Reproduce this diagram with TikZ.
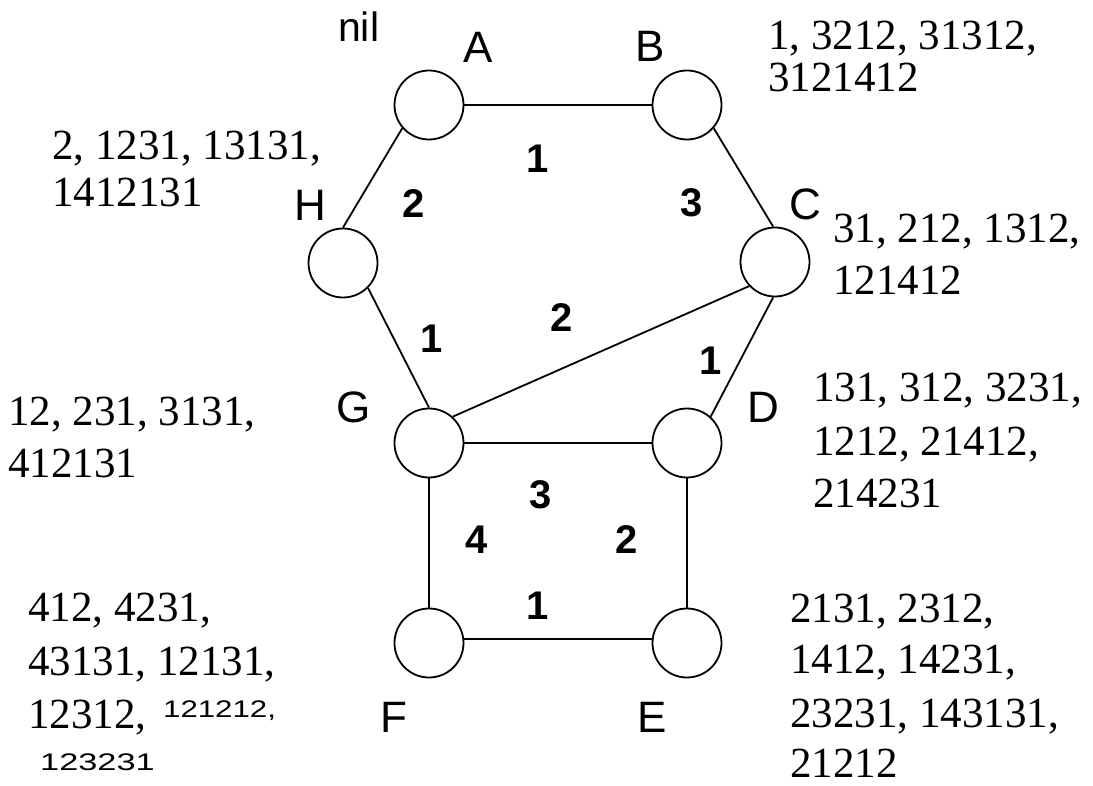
\documentclass[tikz,border=0pt]{standalone}
\usepackage{graphicx}
\usepackage{fontspec}
\setmainfont{Liberation Serif}
\newfontfamily\lsans{Liberation Sans}
\begin{document}
\begin{tikzpicture}[x=1pt,y=-1pt]
\tikzset{
 vtx/.style={draw, circle, line width=1.8pt, minimum size=69pt, inner sep=0pt},
 edge/.style={line width=1.8pt},
 num/.style={font=\fontsize{43}{52}\selectfont, anchor=base west, inner sep=0pt},
 lbl/.style={font=\lsans\fontsize{44}{50}\selectfont, anchor=base, inner sep=0pt},
 wt/.style={font=\lsans\bfseries\fontsize{40}{48}\selectfont, anchor=base, inner sep=0pt},
 hand/.style={font=\lsans\fontsize{24}{28}\selectfont, anchor=base west, inner sep=0pt},
}
\useasboundingbox (0,0) rectangle (1093,786);
% vertices
\node[vtx] (A) at (429,105) {};
\node[vtx] (B) at (687,105) {};
\node[vtx] (H) at (343,263) {};
\node[vtx] (C) at (775,262) {};
\node[vtx] (G) at (429,443) {};
\node[vtx] (D) at (687,443) {};
\node[vtx] (F) at (429,643) {};
\node[vtx] (E) at (687,643) {};
% edges
\draw[edge] (A.east) -- (B.west);
\draw[edge] (A.221) -- (H.90);
\draw[edge] (B.-41) -- (C.93);
\draw[edge] (H.-45) -- (G.90);
\draw[edge] (G.48) -- (C.223);
\draw[edge] (C.-93) -- (D.48);
\draw[edge] (G.east) -- (D.west);
\draw[edge] (G.south) -- (F.north);
\draw[edge] (D.south) -- (E.north);
\draw[edge] (F.6) -- (E.174);
% vertex letters
\node[lbl] (lA) at (478,63) {A};
\node[lbl] (lB) at (650,62) {B};
\node[lbl] (lH) at (310,221) {H};
\node[lbl] (lC) at (805,220) {C};
\node[lbl] (lG) at (354,423) {G};
\node[lbl] (lD) at (763,422) {D};
\node[lbl] (lF) at (394,732) {F};
\node[lbl] (lE) at (652,732) {E};
% weights
\node[wt] (w1) at (538,173) {1};
\node[wt] (w2) at (414,218) {2};
\node[wt] (w3) at (692,217) {3};
\node[wt] (w4) at (432,353) {1};
\node[wt] (w5) at (562,332) {2};
\node[wt] (w6) at (711,375) {1};
\node[wt] (w7) at (541,508) {3};
\node[wt] (w8) at (477,553) {4};
\node[wt] (w9) at (627,553) {2};
\node[wt] (w10) at (538,619) {1};
% sequence labels
\node[font=\lsans\fontsize{41}{48}\selectfont, anchor=base west, inner sep=0pt] (nil) at (338,42) {nil};
\node[num] (b1) at (768,50) {1, 3212, 31312,};
\node[num] (b2) at (768,92) {3121412};
\node[num] (h1) at (52,160) {2, 1231, 13131,};
\node[num] (h2) at (52,207) {1412131};
\node[num] (c1) at (833,243) {31, 212, 1312,};
\node[num] (c2) at (833,295) {121412};
\node[num] (g1) at (8,425) {12, 231, 3131,};
\node[num] (g2) at (8,477) {412131};
\node[num] (d1) at (813,402) {131, 312, 3231,};
\node[num] (d2) at (813,455) {1212, 21412,};
\node[num] (d3) at (813,507) {214231};
\node[num] (e1) at (790,622) {2131, 2312,};
\node[num] (e2) at (790,673) {1412, 14231,};
\node[num] (e3) at (790,727) {23231, 143131,};
\node[num] (e4) at (790,777) {21212};
\node[num] (f1) at (28,621) {412, 4231,};
\node[num] (f2) at (28,675) {43131, 12131,};
\node[num] (f3) at (28,728) {12312,};
\node[hand] (f4) at (163,717) {\scalebox{1.3}[1]{121212,}};
\node[hand] (f5) at (40,770) {\scalebox{1.43}[1]{123231}};
\end{tikzpicture}
\end{document}
